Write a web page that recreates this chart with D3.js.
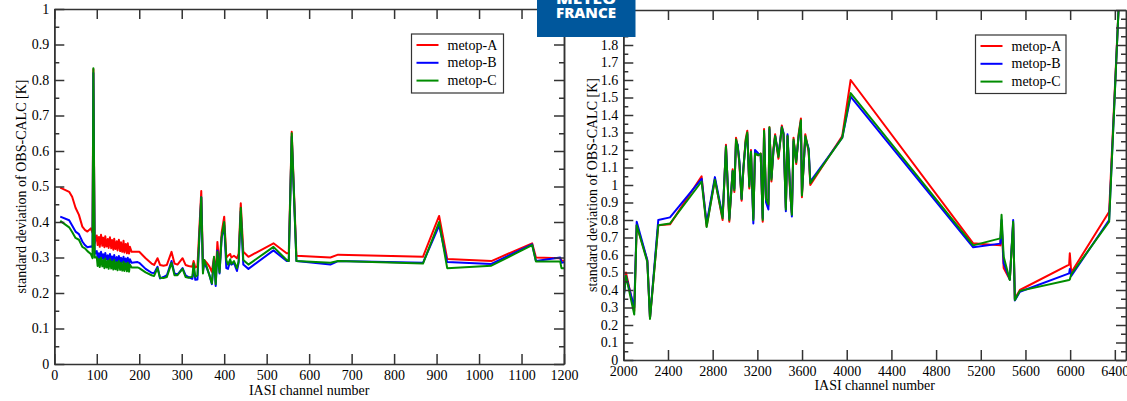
<!DOCTYPE html>
<html><head><meta charset="utf-8">
<script src="https://cdn.jsdelivr.net/npm/d3@7"></script>
<style>
html,body{margin:0;padding:0;background:#fff;}
svg{display:block;}
</style></head>
<body>
<svg id="chart" width="1127" height="401"></svg>
<script>
// ---------------- DATA ----------------
const seriesNames = ["metop-A", "metop-B", "metop-C"];
const seriesColors = ["#ff0000", "#0000ff", "#008c00"];

// Left panel (channels 0-1200)
const leftChannels = [14,35,42,50,58,66,72,78,86,90,92,95,100,102,105,107,110,113,115,118,120,123,126,128,131,134,136,139,141,144,147,149,152,155,157,160,163,165,168,171,173,176,178,182,196,200,215,229,235,243,249,257,265,276,283,290,302,309,316,325,328,332,337,346,350,353,359,365,371,376,380,384,389,394,400,405,409,414,417,423,430,434,439,445,457,516,547,552,559,570,650,668,868,906,925,1029,1125,1134,1191,1194,1200];
const leftA = [0.497,0.485,0.471,0.440,0.420,0.387,0.378,0.373,0.382,0.370,0.830,0.340,0.362,0.335,0.358,0.330,0.364,0.333,0.356,0.329,0.360,0.331,0.352,0.327,0.357,0.326,0.349,0.322,0.353,0.324,0.346,0.320,0.350,0.318,0.343,0.316,0.347,0.314,0.338,0.312,0.340,0.311,0.330,0.316,0.316,0.316,0.298,0.283,0.279,0.298,0.279,0.277,0.279,0.316,0.283,0.280,0.298,0.279,0.276,0.274,0.290,0.272,0.275,0.487,0.280,0.293,0.285,0.275,0.260,0.300,0.250,0.344,0.270,0.370,0.415,0.300,0.305,0.310,0.300,0.305,0.298,0.310,0.453,0.316,0.302,0.340,0.312,0.312,0.654,0.305,0.300,0.308,0.302,0.417,0.296,0.290,0.340,0.300,0.298,0.292,0.290];
const leftB = [0.415,0.405,0.390,0.373,0.366,0.345,0.335,0.329,0.331,0.330,0.820,0.310,0.318,0.298,0.312,0.295,0.316,0.297,0.309,0.293,0.313,0.294,0.306,0.291,0.310,0.290,0.303,0.289,0.307,0.288,0.301,0.287,0.304,0.286,0.299,0.285,0.302,0.284,0.297,0.283,0.299,0.282,0.295,0.285,0.287,0.285,0.268,0.257,0.256,0.274,0.241,0.245,0.250,0.290,0.255,0.252,0.270,0.250,0.245,0.240,0.270,0.237,0.238,0.470,0.262,0.285,0.270,0.252,0.225,0.295,0.220,0.320,0.255,0.355,0.390,0.270,0.268,0.290,0.280,0.285,0.262,0.285,0.430,0.280,0.268,0.320,0.290,0.290,0.640,0.290,0.280,0.290,0.285,0.390,0.287,0.282,0.337,0.290,0.300,0.285,0.287];
const leftC = [0.403,0.385,0.372,0.355,0.350,0.330,0.326,0.318,0.310,0.298,0.833,0.300,0.301,0.276,0.296,0.273,0.299,0.275,0.293,0.270,0.297,0.272,0.291,0.268,0.295,0.269,0.289,0.266,0.293,0.267,0.287,0.264,0.290,0.265,0.285,0.263,0.288,0.262,0.283,0.261,0.285,0.260,0.280,0.272,0.272,0.270,0.258,0.250,0.248,0.270,0.243,0.242,0.245,0.285,0.250,0.250,0.268,0.245,0.243,0.246,0.283,0.246,0.250,0.470,0.255,0.293,0.274,0.250,0.227,0.302,0.225,0.316,0.258,0.358,0.400,0.293,0.280,0.295,0.282,0.290,0.270,0.290,0.440,0.293,0.280,0.330,0.293,0.290,0.650,0.290,0.285,0.290,0.283,0.400,0.270,0.277,0.335,0.289,0.289,0.270,0.270];

// Right panel (channels 2000-6500)
const rightChannels = [2000,2024,2098,2120,2215,2239,2313,2418,2701,2746,2820,2889,2919,2949,2979,2994,3009,3024,3039,3059,3075,3095,3110,3128,3143,3164,3179,3209,3230,3248,3260,3278,3299,3308,3326,3344,3359,3389,3419,3434,3455,3470,3494,3509,3524,3548,3569,3590,3599,3629,3659,3674,3960,4035,5132,5375,5386,5405,5460,5490,5505,5550,5991,5997,6010,6349,6440];
const rightA = [0.35,0.50,0.28,0.77,0.57,0.24,0.77,0.775,1.05,0.765,1.035,0.80,1.23,0.79,1.09,0.96,1.27,1.22,1.12,0.91,1.09,1.26,1.31,0.98,1.20,0.81,1.18,1.17,1.18,0.79,1.32,0.91,0.88,1.33,1.02,1.21,1.29,1.15,1.34,1.29,0.87,1.28,0.95,0.84,1.27,1.12,1.29,1.38,0.93,1.29,1.19,1.00,1.28,1.60,0.667,0.655,0.78,0.525,0.46,0.78,0.35,0.40,0.545,0.61,0.50,0.847,2.1];
const rightB = [0.33,0.48,0.30,0.79,0.57,0.24,0.80,0.815,1.035,0.78,1.045,0.82,1.22,0.81,1.08,0.98,1.25,1.23,1.14,0.92,1.10,1.24,1.29,1.00,1.19,0.78,1.20,1.18,1.17,0.81,1.30,0.90,0.86,1.32,1.04,1.19,1.28,1.17,1.33,1.30,0.85,1.29,0.97,0.82,1.25,1.14,1.27,1.36,0.95,1.27,1.21,1.02,1.27,1.505,0.644,0.665,0.80,0.552,0.46,0.80,0.34,0.39,0.495,0.52,0.48,0.80,2.1];
const rightC = [0.34,0.48,0.26,0.77,0.56,0.235,0.77,0.78,1.02,0.76,1.03,0.81,1.22,0.80,1.08,0.97,1.26,1.22,1.13,0.92,1.09,1.25,1.30,0.99,1.19,0.80,1.18,1.17,1.18,0.80,1.31,0.92,0.89,1.33,1.03,1.20,1.28,1.16,1.33,1.29,0.86,1.28,0.96,0.83,1.26,1.13,1.28,1.37,0.94,1.28,1.20,1.01,1.27,1.525,0.655,0.695,0.83,0.59,0.457,0.79,0.343,0.395,0.457,0.46,0.49,0.79,2.1];

// Ticks
const leftXTicks = [0,100,200,300,400,500,600,700,800,900,1000,1100,1200];
const leftYTicks = [0,0.1,0.2,0.3,0.4,0.5,0.6,0.7,0.8,0.9,1];
const leftYTickLabels = ["0","0.1","0.2","0.3","0.4","0.5","0.6","0.7","0.8","0.9","1"];
const leftYMinor = [0.05,0.15,0.25,0.35,0.45,0.55,0.65,0.75,0.85,0.95];
const rightXTicks = [2000,2400,2800,3200,3600,4000,4400,4800,5200,5600,6000,6400];
const rightYTicks = [0,0.1,0.2,0.3,0.4,0.5,0.6,0.7,0.8,0.9,1,1.1,1.2,1.3,1.4,1.5,1.6,1.7,1.8,1.9,2];
const rightYTickLabels = ["0","0.1","0.2","0.3","0.4","0.5","0.6","0.7","0.8","0.9","1","1.1","1.2","1.3","1.4","1.5","1.6","1.7","1.8","1.9","2"];
const rightYMinor = [0.05,0.15,0.25,0.35,0.45,0.55,0.65,0.75,0.85,0.95,1.05,1.15,1.25,1.35,1.45,1.55,1.65,1.75,1.85,1.95];

const yTitle = "standard deviation of OBS-CALC [K]";
const xTitle = "IASI channel number";

// ---------------- DRAW ----------------
const svg = d3.select("#chart");
const FONT = "'Liberation Serif','Times New Roman',serif";
const AXIS_COLOR = "#333";

function panel(cfg) {
  const g = svg.append("g");
  const x = d3.scaleLinear().domain(cfg.xDomain).range([cfg.left, cfg.right]);
  const y = d3.scaleLinear().domain(cfg.yDomain).range([cfg.bottom, cfg.top]);
  const clipId = "clip" + cfg.id;
  svg.append("defs").append("clipPath").attr("id", clipId)
    .append("rect").attr("x", cfg.left).attr("y", cfg.top)
    .attr("width", cfg.right - cfg.left).attr("height", cfg.bottom - cfg.top);

  // lines
  const lg = g.append("g").attr("clip-path", `url(#${clipId})`);
  cfg.series.forEach((vals, i) => {
    const pts = cfg.channels.map((c, j) => [c, vals[j]]);
    lg.append("path").datum(pts)
      .attr("fill", "none").attr("stroke", seriesColors[i])
      .attr("stroke-width", 2).attr("stroke-linejoin", "round")
      .attr("d", d3.line().x(d => x(d[0])).y(d => y(d[1])));
  });

  function style(ax) {
    ax.attr("font-family", FONT).attr("font-size", 14);
    ax.selectAll("path,line").attr("stroke", AXIS_COLOR).attr("stroke-width", 1.5);
    ax.selectAll("text").attr("fill", "#000");
  }
  const labelIdx = (vals, labels) => d => labels[vals.indexOf(d)];

  // bottom
  style(g.append("g").attr("transform", `translate(0,${cfg.bottom})`)
    .call(d3.axisBottom(x).tickValues(cfg.xTicks).tickSizeInner(-10).tickSizeOuter(0).tickPadding(6).tickFormat(d3.format("d"))));
  // top
  style(g.append("g").attr("transform", `translate(0,${cfg.top})`)
    .call(d3.axisTop(x).tickValues(cfg.xTicks).tickSizeInner(-10).tickSizeOuter(0).tickFormat("")));
  // left
  style(g.append("g").attr("transform", `translate(${cfg.left},0)`)
    .call(d3.axisLeft(y).tickValues(cfg.yTicks).tickSizeInner(-10).tickSizeOuter(0).tickPadding(5).tickFormat(labelIdx(cfg.yTicks, cfg.yLabels))));
  style(g.append("g").attr("transform", `translate(${cfg.left},0)`)
    .call(d3.axisLeft(y).tickValues(cfg.yMinor).tickSizeInner(-5).tickSizeOuter(0).tickFormat("")));
  // right
  style(g.append("g").attr("transform", `translate(${cfg.right},0)`)
    .call(d3.axisRight(y).tickValues(cfg.yTicks).tickSizeInner(-10).tickSizeOuter(0).tickFormat("")));
  style(g.append("g").attr("transform", `translate(${cfg.right},0)`)
    .call(d3.axisRight(y).tickValues(cfg.yMinor).tickSizeInner(-5).tickSizeOuter(0).tickFormat("")));

  // titles
  g.append("text").attr("x", (cfg.left + cfg.right) / 2).attr("y", cfg.xTitleY)
    .attr("text-anchor", "middle").attr("font-family", FONT).attr("font-size", 14).text(xTitle);
  g.append("text").attr("transform", `translate(${cfg.yTitleX},${(cfg.top + cfg.bottom) / 2}) rotate(-90)`)
    .attr("text-anchor", "middle").attr("font-family", FONT).attr("font-size", 14).text(yTitle);

  // legend
  const L = cfg.legend;
  const leg = g.append("g");
  leg.append("rect").attr("x", L.x).attr("y", L.y).attr("width", L.w).attr("height", L.h)
    .attr("fill", "#fff").attr("stroke", AXIS_COLOR).attr("stroke-width", 1.2);
  seriesNames.forEach((n, i) => {
    const yy = L.y + 11 + i * 17.8;
    leg.append("line").attr("x1", L.x + 5).attr("x2", L.x + 27).attr("y1", yy).attr("y2", yy)
      .attr("stroke", seriesColors[i]).attr("stroke-width", 2);
    leg.append("text").attr("x", L.x + 36).attr("y", yy + 4.5)
      .attr("font-family", FONT).attr("font-size", 14).text(n);
  });
}

panel({
  id: "L", left: 54.3, right: 564, top: 9, bottom: 364,
  xDomain: [0, 1200], yDomain: [0, 1],
  channels: leftChannels, series: [leftA, leftB, leftC],
  xTicks: leftXTicks, yTicks: leftYTicks, yLabels: leftYTickLabels, yMinor: leftYMinor,
  xTitleY: 395, yTitleX: 26,
  legend: {x: 411.5, y: 34, w: 92, h: 59}
});

panel({
  id: "R", left: 623.3, right: 1126, top: 10, bottom: 360,
  xDomain: [2000, 6500], yDomain: [0, 2],
  channels: rightChannels, series: [rightA, rightB, rightC],
  xTicks: rightXTicks, yTicks: rightYTicks, yLabels: rightYTickLabels, yMinor: rightYMinor,
  xTitleY: 390, yTitleX: 597,
  legend: {x: 975.5, y: 35, w: 90.5, h: 58.5}
});

// Logo
const logo = svg.append("g");
logo.append("rect").attr("x", 537).attr("y", -2).attr("width", 98.5).attr("height", 39).attr("fill", "#00579c");
logo.append("text").attr("x", 586).attr("y", 3.5).attr("text-anchor", "middle")
  .attr("font-family", "'Open Sans','DejaVu Sans',sans-serif").attr("font-weight", 800)
  .attr("font-size", 14).attr("fill", "#fff").attr("textLength", 60).attr("lengthAdjust", "spacingAndGlyphs").text("MÉTÉO");
logo.append("text").attr("x", 586).attr("y", 17.8).attr("text-anchor", "middle")
  .attr("font-family", "'Open Sans','DejaVu Sans',sans-serif").attr("font-weight", 800)
  .attr("font-size", 13.5).attr("fill", "#fff").attr("textLength", 60).attr("lengthAdjust", "spacingAndGlyphs").text("FRANCE");
</script>
</body></html>
